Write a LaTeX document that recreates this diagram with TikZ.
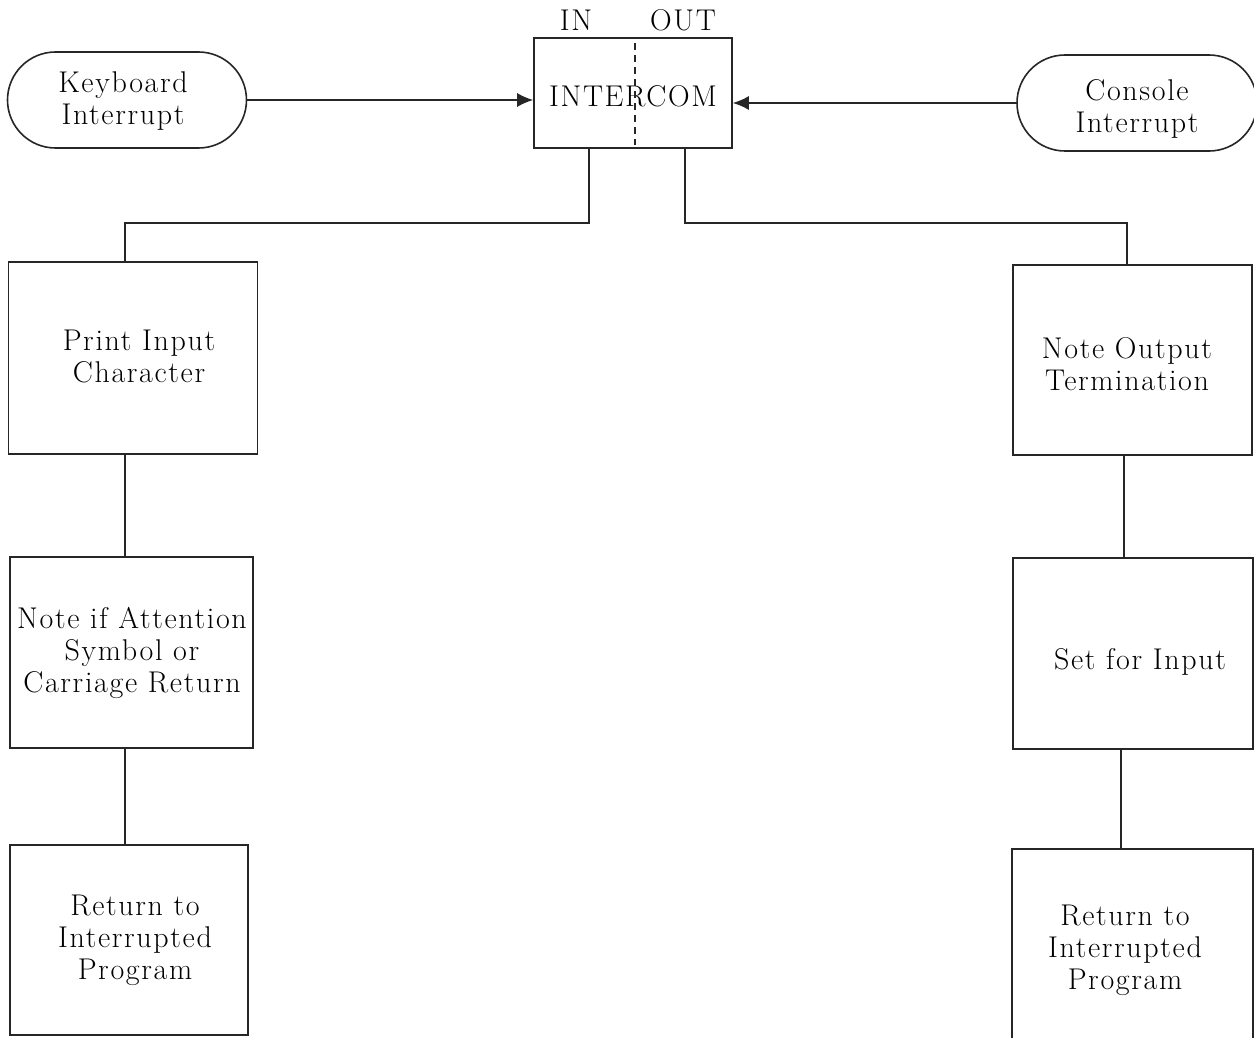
\documentclass[tikz,border=0pt]{standalone}
\usepackage{fontspec}
\setmainfont{Latin Modern Roman}[LetterSpace=5.5]
\usetikzlibrary{arrows.meta,shapes.misc,calc}
\begin{document}
\begin{tikzpicture}[x=1pt,y=-1pt,
  every node/.style={font=\fontsize{30}{32}\selectfont, align=center, inner sep=0pt},
  flowline/.style={line width=1.6pt, draw=black!85},
  procbox/.style={draw=black!85, line width=1.6pt, rectangle},
  termbox/.style={draw=black!85, line width=1.6pt, rounded rectangle},
  tip/.style={-{Latex[length=16pt,width=14pt]}}
]
\useasboundingbox (0,0) rectangle (1254,1038);

% interrupt sources
\node[termbox, minimum width=239pt, minimum height=96pt] (kbd) at (127,100) {};
\node at (123,101) {Keyboard\\Interrupt};
\node[termbox, minimum width=240pt, minimum height=96pt] (con) at (1137,103) {};
\node at (1137,109) {Console\\Interrupt};

% intercom box with IN/OUT halves
\node[procbox, minimum width=198pt, minimum height=110pt] (icom) at (633,93) {};
\node at (633,96) {INTERCOM};
\draw[flowline, dashed, dash pattern=on 7pt off 5pt] ($(icom.north)+(2,6)$) -- ($(icom.south)+(2,-4)$);
\node at (576,20) {IN};
\node at (683,20) {OUT};

\draw[flowline, tip] (kbd.east) -- (icom.west |- kbd.east);
\draw[flowline, tip] (con.west) -- (icom.east |- con.west);

% left column
\node[procbox, minimum width=249pt, minimum height=192pt] (pic) at (133,358) {};
\node at (139,356) {Print Input\\Character};
\node[procbox, minimum width=243pt, minimum height=191pt] (note) at (131.5,652.5) {};
\node at (132,653) {Note if Attention\\Symbol or\\Carriage Return};
\node[procbox, minimum width=238pt, minimum height=190pt] (retl) at (129,940) {};
\node at (135,940) {Return to\\Interrupted\\Program};

% right column
\node[procbox, minimum width=239pt, minimum height=190pt] (nout) at (1132.5,360) {};
\node at (1127,364) {Note Output\\Termination};
\node[procbox, minimum width=240pt, minimum height=191pt] (sfi) at (1133,653.5) {};
\node at (1140,662) {Set for Input};
\node[procbox, minimum width=241pt, minimum height=192pt] (retr) at (1132.5,945) {};
\node at (1125,950) {Return to\\Interrupted\\Program};

% branch connectors
\draw[flowline] ($(icom.south)+(-44,0)$) |- (125,223) -- ($(pic.north)+(-8,0)$);
\draw[flowline] ($(icom.south)+(52,0)$) |- (1127,223) -- ($(nout.north)+(-5.5,0)$);

\draw[flowline] ($(pic.south)+(-8,0)$) -- ($(note.north)+(-6.5,0)$);
\draw[flowline] ($(note.south)+(-6.5,0)$) -- ($(retl.north)+(-4,0)$);
\draw[flowline] ($(nout.south)+(-8.5,0)$) -- ($(sfi.north)+(-9,0)$);
\draw[flowline] ($(sfi.south)+(-12,0)$) -- ($(retr.north)+(-11.5,0)$);
\end{tikzpicture}
\end{document}
